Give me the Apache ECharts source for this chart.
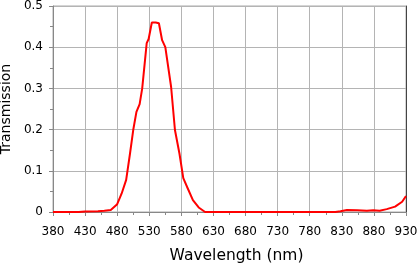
<!DOCTYPE html>
<html><head><meta charset="utf-8">
<script src="https://cdn.jsdelivr.net/npm/echarts@6/dist/echarts.min.js"></script>
<style>html,body{margin:0;padding:0;background:#fff}#c{width:419px;height:264px}</style>
</head><body><div id="c"></div>
<script>
var wavelengths = [380,400,420,430,450,460,470,480,487,494,500,505,510,515,519,526,529,534,540,545,550,555,564,570,577,583,590,598,607,617,630,700,800,820,828,838,854,869,879,889,900,913,924,930];
var transmission = [0,0,0,0.001,0.002,0.003,0.005,0.019,0.045,0.078,0.142,0.199,0.243,0.262,0.30,0.41,0.42,0.46,0.46,0.458,0.417,0.40,0.304,0.199,0.142,0.082,0.057,0.029,0.011,0,0,0,0,0,0.002,0.005,0.004,0.003,0.004,0.003,0.007,0.013,0.025,0.039];
var xTicks = {min:380, max:930, step:50};
var yTicks = {min:0, max:0.5, step:0.1};
var pts = wavelengths.map(function(w,i){return [w, transmission[i]];});
var font = 'DejaVu Sans';
var chart = echarts.init(document.getElementById('c'));
chart.setOption({
  animation:false,
  grid:{left:53, right:13, top:6, bottom:52, containLabel:false, outerBoundsMode:'none', show:true, borderColor:'#aaa', borderWidth:1},
  xAxis:{type:'value', min:xTicks.min, max:xTicks.max, interval:xTicks.step,
    name:'Wavelength (nm)', nameLocation:'middle', nameGap:36,
    nameTextStyle:{fontFamily:font, fontSize:15.5, color:'#000', padding:[0,0,0,14]},
    axisLine:{show:true, onZero:false, lineStyle:{color:'#888', width:1}},
    axisTick:{show:true, length:4, lineStyle:{color:'#888'}},
    minorTick:{show:true, splitNumber:2, length:3, lineStyle:{color:'#888'}},
    axisLabel:{fontFamily:font, fontSize:12, color:'#000', margin:14},
    splitLine:{show:true, lineStyle:{color:'#b4b4b4', width:1}}
  },
  yAxis:[{type:'value', min:yTicks.min, max:yTicks.max, interval:yTicks.step,
    name:'Transmission', nameLocation:'middle', nameGap:37,
    nameTextStyle:{fontFamily:font, fontSize:14, color:'#000'},
    axisLine:{show:true, lineStyle:{color:'#888', width:1}},
    axisTick:{show:true, length:4, lineStyle:{color:'#888'}},
    minorTick:{show:true, splitNumber:2, length:3, lineStyle:{color:'#888'}},
    axisLabel:{fontFamily:font, fontSize:12, color:'#000', margin:10},
    splitLine:{show:true, lineStyle:{color:'#b4b4b4', width:1}}
  },{type:'value', position:'right', min:yTicks.min, max:yTicks.max, interval:yTicks.step,
    axisLine:{show:true, lineStyle:{color:'#444', width:1}},
    axisTick:{show:false}, axisLabel:{show:false}, splitLine:{show:false}
  }],
  series:[{type:'line', data:pts, showSymbol:false, symbol:'none',
    lineStyle:{color:'#ff0000', width:2}, itemStyle:{color:'#ff0000'}}]
});
</script></body></html>
